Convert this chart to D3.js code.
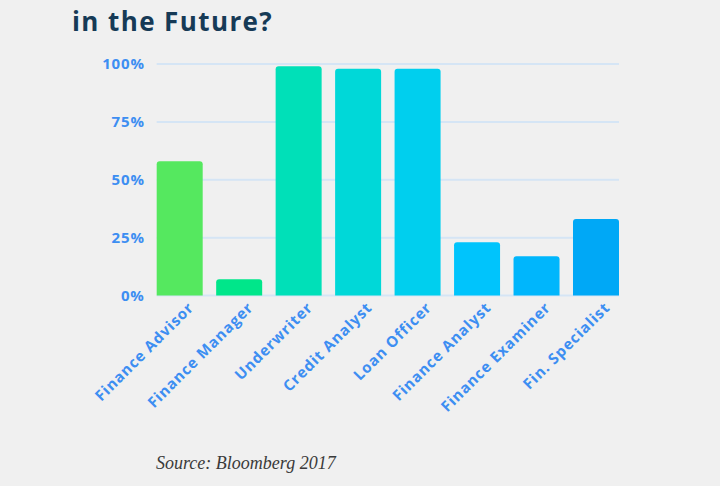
<!DOCTYPE html>
<html>
<head>
<meta charset="utf-8">
<script src="https://cdn.jsdelivr.net/npm/d3@7"></script>
<style>
  html, body { margin: 0; padding: 0; background: #f0f0f0; }
  svg { display: block; }
</style>
</head>
<body>
<svg id="chart" width="720" height="486"></svg>
<script>
const categories = ["Finance Advisor", "Finance Manager", "Underwriter", "Credit Analyst", "Loan Officer", "Finance Analyst", "Finance Examiner", "Fin. Specialist"];
const values = [58, 7, 99, 98, 98, 23, 17, 33];
const barColors = ["#55e85f", "#00e68a", "#00e0b8", "#00d8d8", "#00cfee", "#00c4fc", "#00b6fc", "#00a8f6"];
const yTicks = [0, 25, 50, 75, 100];
const yTickLabels = ["0%", "25%", "50%", "75%", "100%"];
const titleText = "in the Future?";
const sourceText = "Source: Bloomberg 2017";

const svg = d3.select("#chart");
svg.append("rect").attr("width", 720).attr("height", 486).attr("fill", "#f0f0f0");

const x = d3.scaleBand().domain(categories).range([156.7, 619]).paddingInner(0.2265).paddingOuter(0);
const y = d3.scaleLinear().domain([0, 100]).range([295.5, 64]);

// title
svg.append("text")
  .attr("x", 72).attr("y", 31)
  .attr("fill", "#163a56")
  .attr("font-family", "'Open Sans', sans-serif")
  .attr("font-weight", 700)
  .attr("font-size", 26)
  .attr("letter-spacing", 1.4)
  .text(titleText);

// gridlines
svg.append("g").selectAll("line").data(yTicks).join("line")
  .attr("x1", 156.7).attr("x2", 619)
  .attr("y1", d => y(d)).attr("y2", d => y(d))
  .attr("stroke", "#d5e5f5").attr("stroke-width", 2);

// y axis labels
const yAxis = d3.axisLeft(y).tickValues(yTicks).tickFormat((d, i) => yTickLabels[i]).tickSize(0).tickPadding(12);
const yg = svg.append("g").attr("transform", "translate(156.7,0)").call(yAxis);
yg.select(".domain").remove();
yg.selectAll("text")
  .attr("fill", "#3d8ef2")
  .attr("font-family", "'Open Sans', sans-serif")
  .attr("font-weight", 700)
  .attr("font-size", 15)
  .attr("letter-spacing", 0.8);

// bars
svg.append("g").selectAll("path").data(categories).join("path")
  .attr("fill", (d, i) => barColors[i])
  .attr("d", (d, i) => {
    const x0 = x(d), w = x.bandwidth(), y0 = y(values[i]), y1 = y(0), r = 3;
    return `M${x0},${y1}V${y0 + r}Q${x0},${y0} ${x0 + r},${y0}H${x0 + w - r}Q${x0 + w},${y0} ${x0 + w},${y0 + r}V${y1}Z`;
  });

// x labels
const xAxis = d3.axisBottom(x).tickSize(0).tickPadding(0);
const xg = svg.append("g").attr("transform", `translate(0,${y(0)})`).call(xAxis);
xg.select(".domain").remove();
xg.selectAll("text")
  .attr("fill", "#3d8ef2")
  .attr("font-family", "'Open Sans', sans-serif")
  .attr("font-weight", 700)
  .attr("font-size", 15)
  .attr("letter-spacing", 0.9)
  .attr("text-anchor", "end")
  .attr("dy", null)
  .attr("y", 0)
  .attr("transform", "translate(15,13) rotate(-45)");

// source
svg.append("text")
  .attr("x", 156).attr("y", 469)
  .attr("fill", "#3a3a3a")
  .attr("font-family", "'Liberation Serif', 'DejaVu Serif', serif")
  .attr("font-style", "italic")
  .attr("font-size", 18)
  .text(sourceText);
</script>
</body>
</html>
